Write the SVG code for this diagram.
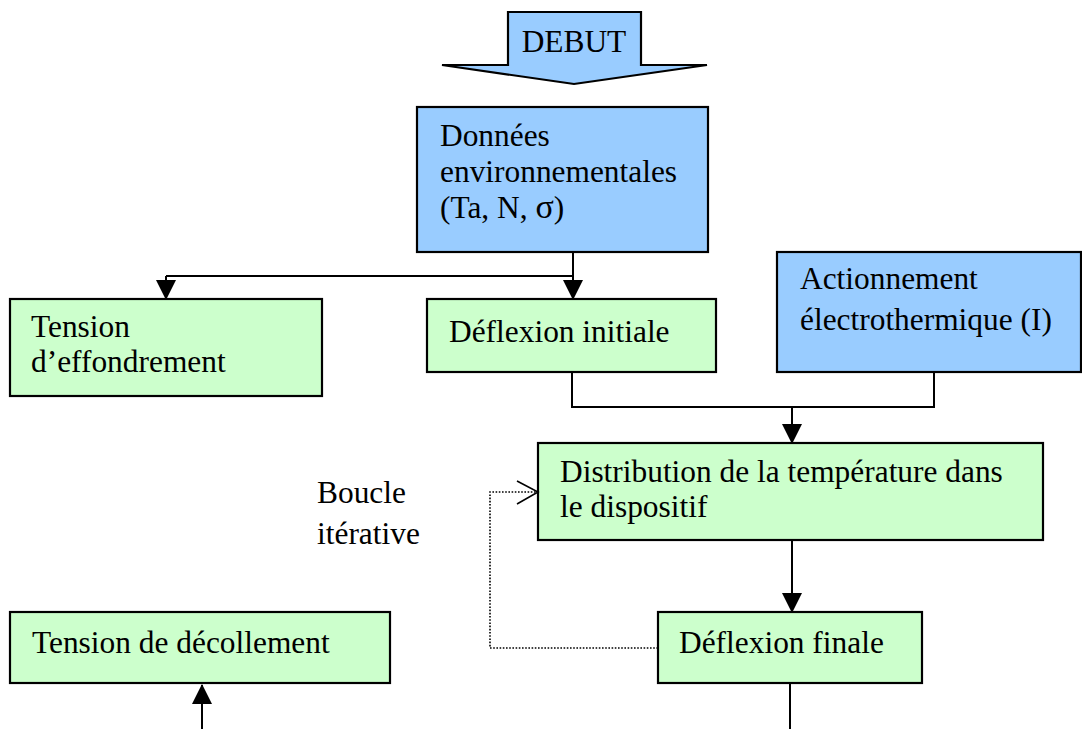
<svg xmlns="http://www.w3.org/2000/svg" width="1082" height="729" viewBox="0 0 1082 729">
  <style>
    .box { stroke: #000; stroke-width: 2.2; }
    .blue { fill: #99CCFF; }
    .green { fill: #CCFFCC; }
    .lbl { font-family: "Liberation Serif", "Times New Roman", serif; font-size: 31.4px; fill: #000; }
    .wire { fill: none; stroke: #000; stroke-width: 2; }
    .loop { fill: none; stroke: #000; stroke-width: 1.6; stroke-dasharray: 1.6 1.6; }
  </style>
  <defs>
    <marker id="head" markerUnits="userSpaceOnUse" markerWidth="22" markerHeight="20" refX="19" refY="10" orient="auto" viewBox="0 0 20 20">
      <path d="M0,0 L20,10 L0,20 Z" fill="#000"/>
    </marker>
  </defs>

  <!-- start arrow -->
  <g id="debut">
    <path class="box blue" d="M508,12 L641,12 L641,65 L707,65 L574,84 L442,65 L508,65 Z" stroke-width="2"/>
    <text class="lbl" x="574" y="52" text-anchor="middle">DEBUT</text>
  </g>

  <g id="donnees">
    <rect class="box blue" x="417" y="107" width="291" height="145"/>
    <text class="lbl" x="440" y="146">Données</text>
    <text class="lbl" x="440" y="182">environnementales</text>
    <text class="lbl" x="440" y="218">(Ta, N, <tspan font-size="34px">σ</tspan>)</text>
  </g>

  <g id="tension-effondrement">
    <rect class="box green" x="10" y="299" width="312" height="97"/>
    <text class="lbl" x="31" y="337">Tension</text>
    <text class="lbl" x="31" y="372">d’effondrement</text>
  </g>

  <g id="deflexion-initiale">
    <rect class="box green" x="427" y="299" width="289" height="73"/>
    <text class="lbl" x="449" y="342">Déflexion initiale</text>
  </g>

  <g id="actionnement">
    <rect class="box blue" x="777" y="252" width="304" height="120"/>
    <text class="lbl" x="800" y="289">Actionnement</text>
    <text class="lbl" x="800" y="330">électrothermique (I)</text>
  </g>

  <g id="distribution">
    <rect class="box green" x="538" y="443" width="505" height="97"/>
    <text class="lbl" x="560" y="482">Distribution de la température dans</text>
    <text class="lbl" x="560" y="517">le dispositif</text>
  </g>

  <g id="boucle">
    <text class="lbl" x="317" y="503">Boucle</text>
    <text class="lbl" x="317" y="544">itérative</text>
  </g>

  <g id="deflexion-finale">
    <rect class="box green" x="658" y="612" width="264" height="71"/>
    <text class="lbl" x="679" y="653">Déflexion finale</text>
  </g>

  <g id="tension-decollement">
    <rect class="box green" x="10" y="612" width="380" height="71"/>
    <text class="lbl" x="32" y="653">Tension de décollement</text>
  </g>

  <g id="connectors">
    <path class="wire" d="M573,252 L573,276"/>
    <path class="wire" d="M166,276 L573,276"/>
    <path class="wire" d="M166,276 L166,299" marker-end="url(#head)"/>
    <path class="wire" d="M573,276 L573,299" marker-end="url(#head)"/>
    <path class="wire" d="M572,372 L572,407 L934,407 L934,372"/>
    <path class="wire" d="M792,407 L792,443" marker-end="url(#head)"/>
    <path class="wire" d="M792,540 L792,612" marker-end="url(#head)"/>
    <path class="wire" d="M790,683 L790,729"/>
    <path class="wire" d="M202,729 L202,685" marker-end="url(#head)"/>
    <path class="loop" d="M658,648 L490,648 L490,492 L537,492"/>
    <path d="M517,481 L538,492 L517,504" fill="none" stroke="#000" stroke-width="1.6"/>
  </g>
</svg>
